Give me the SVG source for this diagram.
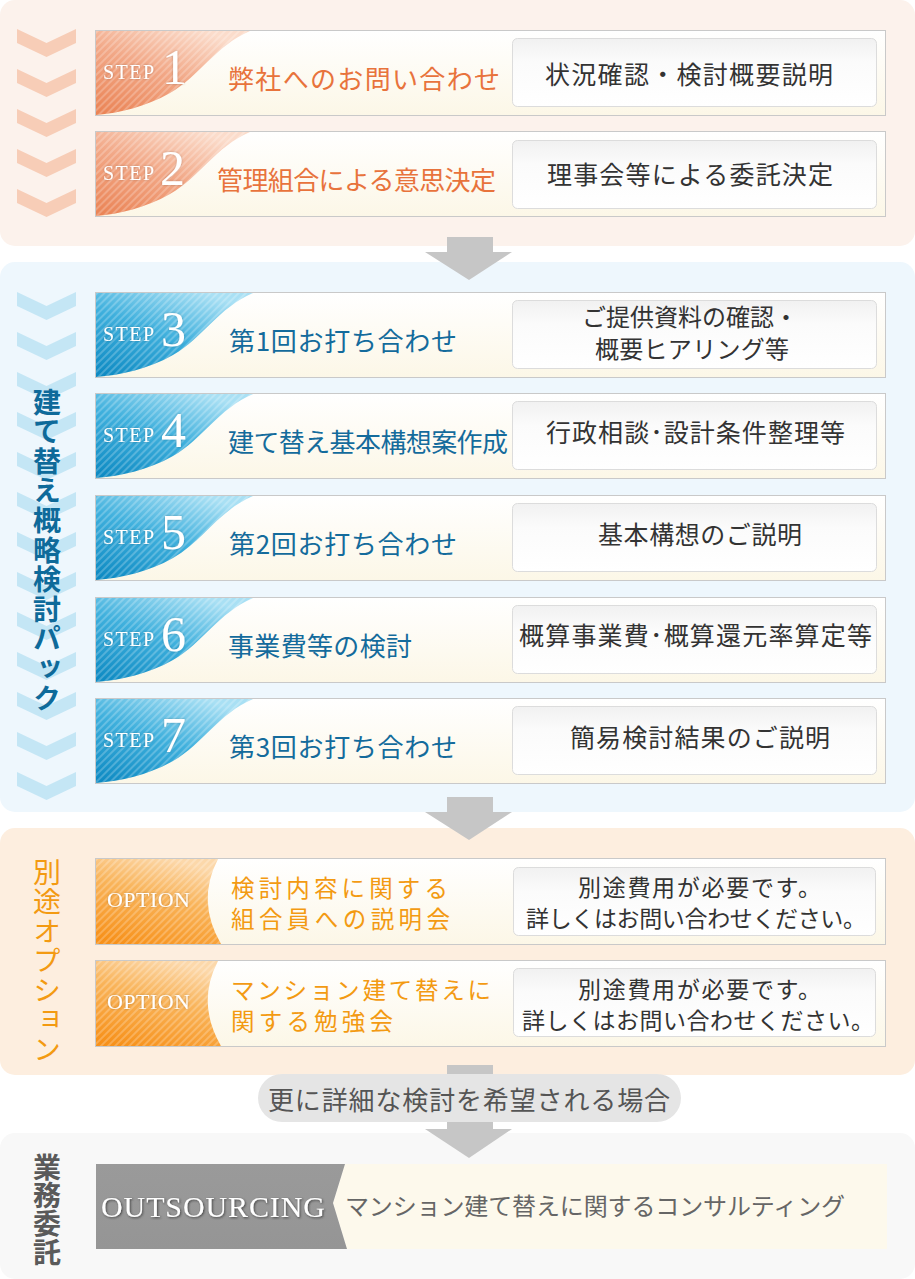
<svg xmlns="http://www.w3.org/2000/svg" xmlns:xlink="http://www.w3.org/1999/xlink" width="915" height="1279" viewBox="0 0 915 1279">
<defs>
<style>
.jp{font-family:"Noto Sans CJK JP","Noto Sans",sans-serif;}
.serif{font-family:"Liberation Serif","DejaVu Serif",serif;}
.box{fill:url(#boxFill);stroke:#c9c9c9;stroke-width:1;}
.rbox{fill:url(#rboxFill);stroke:#dcdcdc;stroke-width:1;}
.rtxt{font-size:25px;fill:#333;}
.r2txt{font-size:24px;fill:#333;}
.otxt{font-size:23px;fill:#333;}
.mOr{font-size:26px;fill:#e8733c;}
.mBl{font-size:26px;fill:#146b9c;}
.mOp{font-size:23.5px;fill:#f39a12;}
.stepw{font-size:20px;fill:#fff;}
.num{font-size:50px;fill:#fff;}
.arrow{fill:#c6c6c6;}
.vert{writing-mode:vertical-rl;text-orientation:upright;font-size:28px;}
.vBl{fill:#0e6a9a;font-weight:bold;letter-spacing:1.6px;}
.vOr{fill:#f39a12;letter-spacing:1.5px;}
.vGr{fill:#5a5a5a;font-weight:bold;letter-spacing:0.3px;}
</style>
<linearGradient id="boxFill" x1="0" y1="0" x2="0" y2="1">
<stop offset="0" stop-color="#ffffff"/><stop offset="1" stop-color="#fcf7e7"/>
</linearGradient>
<linearGradient id="rboxFill" x1="0" y1="0" x2="0" y2="1">
<stop offset="0" stop-color="#f1f1f1"/><stop offset="0.35" stop-color="#fbfbfb"/><stop offset="1" stop-color="#ffffff"/>
</linearGradient>
<linearGradient id="gOr" x1="0" y1="1" x2="0.7" y2="0">
<stop offset="0" stop-color="#ea8253"/><stop offset="0.55" stop-color="#f2a887"/><stop offset="1" stop-color="#fbdccb"/>
</linearGradient>
<linearGradient id="gBl" x1="0" y1="1" x2="0.7" y2="0">
<stop offset="0" stop-color="#0b88c1"/><stop offset="0.55" stop-color="#3fb0dd"/><stop offset="1" stop-color="#a9e0f4"/>
</linearGradient>
<linearGradient id="gOp" x1="0.2" y1="1" x2="0.6" y2="0">
<stop offset="0" stop-color="#f7911a"/><stop offset="0.6" stop-color="#f9b45a"/><stop offset="1" stop-color="#fcd8aa"/>
</linearGradient>
<linearGradient id="gOut" x1="0" y1="0" x2="0" y2="1">
<stop offset="0" stop-color="#9a9a9a"/><stop offset="1" stop-color="#959595"/>
</linearGradient>
<pattern id="stripes" patternUnits="userSpaceOnUse" width="5" height="5" patternTransform="rotate(45)">
<line x1="1" y1="0" x2="1" y2="5" stroke="#ffffff" stroke-opacity="0.28" stroke-width="1.6"/>
</pattern>
<filter id="shadow" x="-10%" y="-30%" width="120%" height="160%">
<feDropShadow dx="1" dy="1" stdDeviation="0.8" flood-color="#333" flood-opacity="0.8"/>
</filter>
<filter id="glow" x="-10%" y="-30%" width="120%" height="160%">
<feDropShadow dx="0" dy="0" stdDeviation="1" flood-color="#000" flood-opacity="0.25"/>
</filter>
<polygon id="chev" points="17,0 46.5,14 76,0 76,14 46.5,28 17,14"/>
</defs>

<!-- section backgrounds -->
<g id="sections">
<rect x="0" y="0" width="915" height="246" rx="15" fill="#fcf2ec"/>
<rect x="0" y="262" width="915" height="550" rx="15" fill="#eef7fd"/>
<rect x="0" y="828" width="915" height="247" rx="15" fill="#fdeedf"/>
<rect x="0" y="1133" width="915" height="146" rx="15" fill="#f8f8f8"/>
</g>

<!-- chevrons -->
<g id="chevrons1" fill="#f7cdb7">
<use xlink:href="#chev" y="29"/><use xlink:href="#chev" y="69"/><use xlink:href="#chev" y="109"/><use xlink:href="#chev" y="149"/><use xlink:href="#chev" y="189"/>
</g>
<g id="chevrons2" fill="#c4e6f5">
<use xlink:href="#chev" y="292"/><use xlink:href="#chev" y="332"/><use xlink:href="#chev" y="372"/><use xlink:href="#chev" y="412"/><use xlink:href="#chev" y="452"/><use xlink:href="#chev" y="492"/><use xlink:href="#chev" y="532"/><use xlink:href="#chev" y="572"/><use xlink:href="#chev" y="612"/><use xlink:href="#chev" y="652"/><use xlink:href="#chev" y="692"/><use xlink:href="#chev" y="732"/><use xlink:href="#chev" y="772"/>
</g>

<!-- section labels -->
<g id="label-pack" class="jp">
<text class="vert vBl" x="47" y="388">建て替え概略検討パック</text>
</g>
<g id="label-option" class="jp">
<text class="vert vOr" x="47" y="858">別途オプション</text>
</g>
<g id="label-outsourcing" class="jp">
<text class="vert vGr" x="47" y="1153">業務委託</text>
</g>

<!-- connectors -->
<g id="connectors">
<rect class="arrow" x="447" y="237" width="46" height="16"/>
<polygon class="arrow" points="425,252 512,252 469,280"/>
<rect class="arrow" x="447" y="797" width="46" height="16"/>
<polygon class="arrow" points="425,812 512,812 469,840"/>
<rect class="arrow" x="447" y="1065" width="46" height="65"/>
<polygon class="arrow" points="425,1129 512,1129 469,1158"/>
</g>

<!-- STEP 1 -->
<g id="step1">
<rect class="box" x="95.5" y="30.5" width="790" height="85"/>
<path d="M96,31 H250 C215,46 200,76 170,93 C145,107 120,113 96,115 Z" fill="url(#gOr)"/>
<path d="M96,31 H250 C215,46 200,76 170,93 C145,107 120,113 96,115 Z" fill="url(#stripes)"/>
<text class="serif stepw" x="103" y="79" textLength="51" filter="url(#glow)">STEP</text>
<text class="serif num" x="162" y="84" filter="url(#glow)">1</text>
<text class="jp mOr" x="228" y="89" textLength="272">弊社へのお問い合わせ</text>
<rect class="rbox" x="512.5" y="38.5" width="364" height="68" rx="5"/>
<text class="jp rtxt" x="545" y="84" textLength="288">状況確認・検討概要説明</text>
</g>

<!-- STEP 2 -->
<g id="step2">
<rect class="box" x="95.5" y="131.5" width="790" height="85"/>
<path d="M96,132 H250 C215,147 200,177 170,194 C145,208 120,214 96,216 Z" fill="url(#gOr)"/>
<path d="M96,132 H250 C215,147 200,177 170,194 C145,208 120,214 96,216 Z" fill="url(#stripes)"/>
<text class="serif stepw" x="103" y="180" textLength="51" filter="url(#glow)">STEP</text>
<text class="serif num" x="160" y="185" filter="url(#glow)">2</text>
<text class="jp mOr" x="217" y="190" textLength="279">管理組合による意思決定</text>
<rect class="rbox" x="512.5" y="140.5" width="364" height="68" rx="5"/>
<text class="jp rtxt" x="547" y="184" textLength="286">理事会等による委託決定</text>
</g>

<!-- STEP 3 -->
<g id="step3">
<rect class="box" x="95.5" y="292.5" width="790" height="85"/>
<path d="M96,293 H253 C218,308 203,338 173,355 C148,369 122,375 96,377 Z" fill="url(#gBl)"/>
<path d="M96,293 H253 C218,308 203,338 173,355 C148,369 122,375 96,377 Z" fill="url(#stripes)"/>
<text class="serif stepw" x="103" y="341" textLength="51" filter="url(#glow)">STEP</text>
<text class="serif num" x="161" y="346" filter="url(#glow)">3</text>
<text class="jp mBl" x="229" y="351" textLength="228">第1回お打ち合わせ</text>
<rect class="rbox" x="512.5" y="300.5" width="364" height="68" rx="5"/>
<text class="jp r2txt" x="582" y="326" textLength="216">ご提供資料の確認・</text>
<text class="jp r2txt" x="595" y="358" textLength="194">概要ヒアリング等</text>
</g>

<!-- STEP 4 -->
<g id="step4">
<rect class="box" x="95.5" y="393.5" width="790" height="85"/>
<path d="M96,394 H253 C218,409 203,439 173,456 C148,470 122,476 96,478 Z" fill="url(#gBl)"/>
<path d="M96,394 H253 C218,409 203,439 173,456 C148,470 122,476 96,478 Z" fill="url(#stripes)"/>
<text class="serif stepw" x="103" y="442" textLength="51" filter="url(#glow)">STEP</text>
<text class="serif num" x="161" y="447" filter="url(#glow)">4</text>
<text class="jp mBl" x="228" y="452" textLength="280">建て替え基本構想案作成</text>
<rect class="rbox" x="512.5" y="401.5" width="364" height="68" rx="5"/>
<text class="jp rtxt" x="546" y="442" textLength="299">行政相談･設計条件整理等</text>
</g>

<!-- STEP 5 -->
<g id="step5">
<rect class="box" x="95.5" y="495.5" width="790" height="85"/>
<path d="M96,496 H253 C218,511 203,541 173,558 C148,572 122,578 96,580 Z" fill="url(#gBl)"/>
<path d="M96,496 H253 C218,511 203,541 173,558 C148,572 122,578 96,580 Z" fill="url(#stripes)"/>
<text class="serif stepw" x="103" y="544" textLength="51" filter="url(#glow)">STEP</text>
<text class="serif num" x="161" y="549" filter="url(#glow)">5</text>
<text class="jp mBl" x="229" y="554" textLength="228">第2回お打ち合わせ</text>
<rect class="rbox" x="512.5" y="503.5" width="364" height="68" rx="5"/>
<text class="jp rtxt" x="598" y="544" textLength="204">基本構想のご説明</text>
</g>

<!-- STEP 6 -->
<g id="step6">
<rect class="box" x="95.5" y="597.5" width="790" height="85"/>
<path d="M96,598 H253 C218,613 203,643 173,660 C148,674 122,680 96,682 Z" fill="url(#gBl)"/>
<path d="M96,598 H253 C218,613 203,643 173,660 C148,674 122,680 96,682 Z" fill="url(#stripes)"/>
<text class="serif stepw" x="103" y="646" textLength="51" filter="url(#glow)">STEP</text>
<text class="serif num" x="161" y="651" filter="url(#glow)">6</text>
<text class="jp mBl" x="228" y="656" textLength="184">事業費等の検討</text>
<rect class="rbox" x="512.5" y="605.5" width="364" height="68" rx="5"/>
<text class="jp rtxt" x="519" y="645" textLength="353">概算事業費･概算還元率算定等</text>
</g>

<!-- STEP 7 -->
<g id="step7">
<rect class="box" x="95.5" y="698.5" width="790" height="85"/>
<path d="M96,699 H253 C218,714 203,744 173,761 C148,775 122,781 96,783 Z" fill="url(#gBl)"/>
<path d="M96,699 H253 C218,714 203,744 173,761 C148,775 122,781 96,783 Z" fill="url(#stripes)"/>
<text class="serif stepw" x="103" y="747" textLength="51" filter="url(#glow)">STEP</text>
<text class="serif num" x="161" y="752" filter="url(#glow)">7</text>
<text class="jp mBl" x="229" y="757" textLength="228">第3回お打ち合わせ</text>
<rect class="rbox" x="512.5" y="706.5" width="364" height="68" rx="5"/>
<text class="jp rtxt" x="570" y="747" textLength="260">簡易検討結果のご説明</text>
</g>

<!-- OPTION 1 -->
<g id="option1">
<rect class="box" x="95.5" y="858.5" width="790" height="86"/>
<path d="M96,859 H218 Q196,901 221,944 H96 Z" fill="url(#gOp)"/>
<path d="M96,859 H218 Q196,901 221,944 H96 Z" fill="url(#stripes)"/>
<text class="serif" x="107" y="907" font-size="22" fill="#fff" textLength="83" filter="url(#glow)">OPTION</text>
<text class="jp mOp" x="231" y="897" textLength="217">検討内容に関する</text>
<text class="jp mOp" x="231" y="928" textLength="219">組合員への説明会</text>
<rect class="rbox" x="513.5" y="867.5" width="362" height="68" rx="5"/>
<text class="jp otxt" x="578" y="896" textLength="243">別途費用が必要です。</text>
<text class="jp otxt" x="526" y="927" textLength="340">詳しくはお問い合わせください。</text>
</g>

<!-- OPTION 2 -->
<g id="option2">
<rect class="box" x="95.5" y="960.5" width="790" height="86"/>
<path d="M96,961 H218 Q196,1003 221,1046 H96 Z" fill="url(#gOp)"/>
<path d="M96,961 H218 Q196,1003 221,1046 H96 Z" fill="url(#stripes)"/>
<text class="serif" x="107" y="1009" font-size="22" fill="#fff" textLength="83" filter="url(#glow)">OPTION</text>
<text class="jp mOp" x="231" y="999" textLength="260">マンション建て替えに</text>
<text class="jp mOp" x="231" y="1030" textLength="162">関する勉強会</text>
<rect class="rbox" x="513.5" y="968.5" width="362" height="68" rx="5"/>
<text class="jp otxt" x="578" y="998" textLength="243">別途費用が必要です。</text>
<text class="jp otxt" x="522" y="1029" textLength="352">詳しくはお問い合わせください。</text>
</g>

<!-- condition pill -->
<g id="condition">
<rect x="258" y="1074" width="423" height="48" rx="24" fill="#e5e5e5"/>
<text class="jp" x="268" y="1110" font-size="26" fill="#555" textLength="402">更に詳細な検討を希望される場合</text>
</g>

<!-- OUTSOURCING -->
<g id="outsourcing">
<path d="M345,1164 H887 V1249 H347 L333,1203 Z" fill="#fdf9ec"/>
<path d="M96,1164 H345 L333,1203 L347,1249 H96 Z" fill="url(#gOut)"/>
<text class="serif" x="101" y="1217" font-size="30" fill="#fff" textLength="224" filter="url(#shadow)">OUTSOURCING</text>
<text class="jp" x="345" y="1215" font-size="24" fill="#666" textLength="500">マンション建て替えに関するコンサルティング</text>
</g>
</svg>
